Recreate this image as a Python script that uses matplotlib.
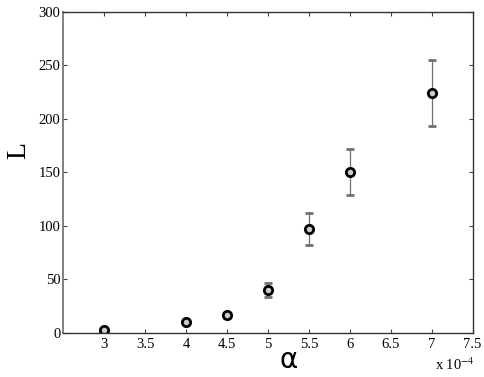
import matplotlib
matplotlib.use("Agg")
import matplotlib.pyplot as plt

alpha = [3.0, 4.0, 4.5, 5.0, 5.5, 6.0, 7.0]          # x 1e-4
L_mean = [2.8, 10.5, 16.5, 40.0, 97.2, 150.5, 224.0]
L_err = [1.5, 2.0, 2.5, 6.8, 15.0, 21.3, 30.5]
xticks = [3, 3.5, 4, 4.5, 5, 5.5, 6, 6.5, 7, 7.5]
yticks = [0, 50, 100, 150, 200, 250, 300]

plt.rcParams['font.family'] = ['Liberation Serif', 'DejaVu Serif']
plt.rcParams['mathtext.fontset'] = 'stix'

fig = plt.figure(figsize=(4.85, 3.77), dpi=100)
ax = fig.add_axes([0.1305, 0.117, 0.844, 0.852])

ax.errorbar(alpha, L_mean, yerr=L_err, fmt='o', mfc='#cccccc', mec='black',
            mew=2.0, ms=6, ecolor='#707070', elinewidth=0.9, capsize=2.6,
            capthick=0.8)

ax.set_xlim(2.5, 7.5)
ax.set_ylim(0, 300)
ax.set_xticks(xticks)
ax.set_xticklabels([f"{t:g}" for t in xticks])
ax.set_yticks(yticks)
ax.tick_params(direction='in', top=True, right=True, length=3, labelsize=10.5,
               color='#444444')
ax.tick_params(axis='x', pad=4)
ax.tick_params(axis='y', pad=2)
for s in ax.spines.values():
    s.set_linewidth(1.0)
    s.set_color('#333333')
ax.spines['left'].set_color('#777777')
ax.spines['left'].set_linewidth(1.3)

fig.text(0.039, 0.602, 'L', fontsize=20, ha='center', va='center', rotation=90)
fig.text(0.596, 0.045, 'α', fontsize=20, ha='center', va='center',
         family='DejaVu Sans')
fig.text(0.937, 0.032, r'x 10$^{-4}$', fontsize=10.5, ha='center', va='center')

fig.savefig('out.png', dpi=100)
